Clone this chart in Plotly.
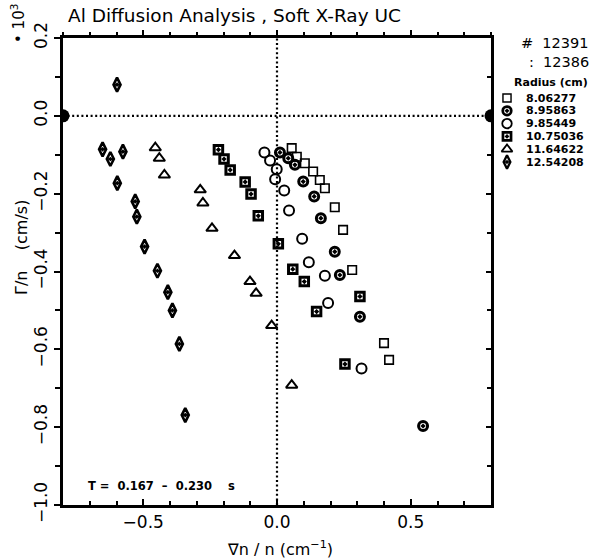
import plotly.graph_objects as go

# ---------------- data ----------------
radius_labels = ["8.06277", "8.95863", "9.85449", "10.75036", "11.64622", "12.54208"]

sq_x = [0.055, 0.074, 0.104, 0.135, 0.160, 0.179, 0.216, 0.247, 0.281, 0.400, 0.419]
sq_y = [-0.083, -0.105, -0.122, -0.143, -0.165, -0.186, -0.235, -0.293, -0.396, -0.584, -0.627]

cd_x = [0.011, 0.042, 0.067, 0.098, 0.139, 0.164, 0.216, 0.235, 0.310, 0.546]
cd_y = [-0.094, -0.109, -0.126, -0.169, -0.207, -0.263, -0.349, -0.409, -0.516, -0.797]

oc_x = [-0.047, -0.026, -0.001, -0.007, 0.027, 0.045, 0.094, 0.119, 0.179, 0.191, 0.316]
oc_y = [-0.094, -0.115, -0.137, -0.163, -0.192, -0.243, -0.316, -0.376, -0.411, -0.481, -0.649]

sd_x = [-0.219, -0.198, -0.175, -0.119, -0.097, -0.070, 0.005, 0.059, 0.102, 0.148, 0.310, 0.254]
sd_y = [-0.087, -0.111, -0.139, -0.170, -0.201, -0.257, -0.329, -0.394, -0.426, -0.503, -0.464, -0.638]

tr_x = [-0.455, -0.440, -0.421, -0.287, -0.277, -0.243, -0.159, -0.101, -0.078, -0.020, 0.055]
tr_y = [-0.082, -0.109, -0.152, -0.190, -0.224, -0.289, -0.359, -0.426, -0.456, -0.539, -0.692]

dm_x = [-0.598, -0.652, -0.623, -0.576, -0.597, -0.530, -0.524, -0.495, -0.447, -0.408, -0.391, -0.365, -0.343]
dm_y = [0.080, -0.086, -0.111, -0.092, -0.173, -0.220, -0.259, -0.336, -0.398, -0.453, -0.500, -0.586, -0.769]

x_range = [-0.8, 0.8]
y_range = [-1.0, 0.2]

# ---------------- layout helpers ----------------
W, H = 601, 558
ML, MR, MT, MB = 63, 5, 38, 53
PW = W - ML - MR
PH = H - MT - MB
PLOT_RIGHT = 491


def px2x(px):
    return (px - ML) / PW


def py2y(py):
    return (H - MB - py) / PH


FONT = "DejaVu Sans"

series = [
    (sq_x, sq_y, "square-open", 8.5, 1.6),
    (cd_x, cd_y, "circle-open-dot", 9, 3.0),
    (oc_x, oc_y, "circle-open", 10, 2.0),
    (sd_x, sd_y, "square-open-dot", 8.5, 3.0),
    (tr_x, tr_y, "triangle-up-open", 10, 2.0),
    (dm_x, dm_y, "diamond-tall-open-dot", 10, 2.6),
]

fig = go.Figure()

for (xs, ys, sym, size, lw), lab in zip(series, radius_labels):
    fig.add_trace(go.Scatter(
        x=xs, y=ys, mode="markers", name=lab, showlegend=False,
        marker=dict(symbol=sym, size=size, color="black",
                    line=dict(color="black", width=lw)),
        cliponaxis=False,
    ))

# half discs at the ends of the zero line
fig.add_trace(go.Scatter(
    x=x_range, y=[0, 0], mode="markers", showlegend=False,
    marker=dict(symbol="circle", size=13, color="black"),
    cliponaxis=True,
))

# invisible trace for mirrored axes
fig.add_trace(go.Scatter(x=x_range, y=y_range, xaxis="x2", yaxis="y2",
                         mode="markers", marker=dict(opacity=0), showlegend=False,
                         hoverinfo="skip"))

# manual legend (symbols)
for i, ((xs, ys, sym, size, lw), lab) in enumerate(zip(series, radius_labels)):
    fig.add_trace(go.Scatter(
        x=[10], y=[i], xaxis="x3", yaxis="y3", mode="markers", showlegend=False,
        marker=dict(symbol=sym, size=size * 0.95, color="black",
                    line=dict(color="black", width=lw * 0.9)),
        cliponaxis=False,
    ))

xd = [0, px2x(PLOT_RIGHT)]
common_tick = dict(tickcolor="black", tickwidth=1.5)

fig.update_layout(
    width=W, height=H,
    margin=dict(l=ML, r=MR, t=MT, b=MB),
    paper_bgcolor="white", plot_bgcolor="white",
    font=dict(family=FONT, color="black"),
    showlegend=False,
    xaxis=dict(domain=xd, range=x_range, showgrid=False, zeroline=False,
               showline=True, linecolor="black", linewidth=2.5,
               ticks="inside", ticklen=6, dtick=0.5, tick0=0, tickformat=".1f",
               tickfont=dict(size=17), **common_tick,
               minor=dict(dtick=0.1, ticks="inside", ticklen=4, tickcolor="black", tickwidth=1.5,
                          showgrid=False)),
    yaxis=dict(range=y_range, showgrid=False, zeroline=False,
               showline=True, linecolor="black", linewidth=2.5,
               ticks="outside", ticklen=6, dtick=0.2, tick0=0, tickformat=".1f",
               tickangle=-90, tickfont=dict(size=17), **common_tick,
               minor=dict(dtick=0.1, ticks="outside", ticklen=5, tickcolor="black", tickwidth=1.5,
                          showgrid=False)),
    xaxis2=dict(domain=xd, overlaying="x", side="top", anchor="y2", range=x_range,
                showgrid=False, zeroline=False, showline=True, linecolor="black", linewidth=2.5,
                ticks="outside", ticklen=5, dtick=0.5, tick0=0, showticklabels=False, **common_tick,
                minor=dict(dtick=0.1, ticks="outside", ticklen=3, tickcolor="black", tickwidth=1.5,
                           showgrid=False)),
    yaxis2=dict(overlaying="y", side="right", anchor="x2", range=y_range,
                showgrid=False, zeroline=False, showline=True, linecolor="black", linewidth=2.5,
                ticks="inside", ticklen=5, dtick=0.2, tick0=0, showticklabels=False, **common_tick,
                minor=dict(dtick=0.1, ticks="inside", ticklen=4, tickcolor="black", tickwidth=1.5,
                           showgrid=False)),
    xaxis3=dict(domain=[px2x(497), 1.0], range=[0, 99], visible=False, anchor="y3"),
    yaxis3=dict(domain=[py2y(168.4), py2y(91.6)], range=[5.5, -0.5], visible=False, anchor="x3"),
)

# dotted zero lines
fig.add_shape(type="line", xref="x", yref="y", x0=x_range[0], x1=x_range[1], y0=0, y1=0,
              line=dict(color="black", width=2.2, dash="2px,2.6px"), layer="below")
fig.add_shape(type="line", xref="x", yref="y", x0=0, x1=0, y0=y_range[0], y1=y_range[1],
              line=dict(color="black", width=2.2, dash="2px,2.6px"), layer="below")

ann = []
ann.append(dict(text="Al Diffusion Analysis , Soft X-Ray UC", xref="paper", yref="paper",
                x=px2x(66), y=py2y(15), xanchor="left", yanchor="middle",
                showarrow=False, font=dict(size=18.5)))
ann.append(dict(text="\u2022 10<sup>3</sup>", xref="paper", yref="paper",
                x=px2x(18), y=py2y(24), xanchor="center", yanchor="middle",
                textangle=-90, showarrow=False, font=dict(size=15)))
ann.append(dict(text="\u0393/n &nbsp;&nbsp; (cm/s)", xref="paper", yref="paper",
                x=px2x(22), y=py2y(248), xanchor="center", yanchor="middle",
                textangle=-90, showarrow=False, font=dict(size=16)))
ann.append(dict(text="\u2207n / n (cm<sup>\u22121</sup>)", xref="paper", yref="paper",
                x=px2x(280), y=py2y(548), xanchor="center", yanchor="middle",
                showarrow=False, font=dict(size=16)))
ann.append(dict(text="<b>T =  0.167  \u2013  0.230    s</b>", xref="paper", yref="paper",
                x=px2x(86), y=py2y(486), xanchor="left", yanchor="middle",
                showarrow=False, font=dict(size=11.5)))
ann.append(dict(text="<i>#</i>  12391", xref="paper", yref="paper",
                x=px2x(591), y=py2y(43), xanchor="right", yanchor="middle",
                showarrow=False, font=dict(size=14.5)))
ann.append(dict(text=":  12386", xref="paper", yref="paper",
                x=px2x(591), y=py2y(62), xanchor="right", yanchor="middle",
                showarrow=False, font=dict(size=14.5)))
ann.append(dict(text="<b>Radius (cm)</b>", xref="paper", yref="paper",
                x=px2x(551), y=py2y(82), xanchor="center", yanchor="middle",
                showarrow=False, font=dict(size=11)))
for i, lab in enumerate(radius_labels):
    ann.append(dict(text="<b>" + lab + "</b>", xref="x3", yref="y3", x=27, y=i,
                    xanchor="left", yanchor="middle", showarrow=False,
                    font=dict(size=11)))

fig.update_layout(annotations=ann)

fig.write_html("out.html")
